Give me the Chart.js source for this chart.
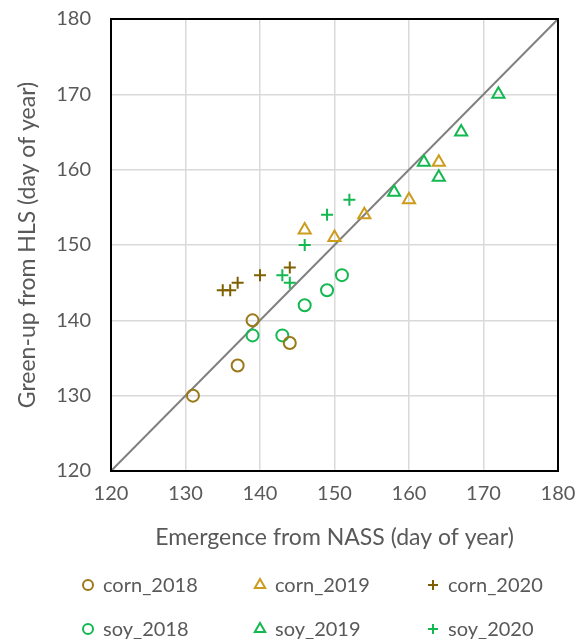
<!DOCTYPE html>
<html>
<head>
<meta charset="utf-8">
<script src="https://cdn.jsdelivr.net/npm/chart.js@4/dist/chart.umd.min.js"></script>
<style>
  html, body { margin: 0; padding: 0; background: #fff; }
  #wrap { width: 579px; height: 639px; position: relative; }
</style>
</head>
<body>
<div id="wrap"><canvas id="scatter"></canvas></div>
<script>
// Emergence (NASS) vs green-up (HLS), day of year
const corn2018X = [131, 137, 139, 144];
const corn2018Y = [130, 134, 140, 137];
const corn2019X = [146, 150, 154, 160, 164];
const corn2019Y = [152, 151, 154, 156, 161];
const corn2020X = [135, 136, 137, 140, 144];
const corn2020Y = [144, 144, 145, 146, 147];
const soy2018X = [139, 143, 146, 149, 151];
const soy2018Y = [138, 138, 142, 144, 146];
const soy2019X = [158, 162, 164, 167, 172];
const soy2019Y = [157, 161, 159, 165, 170];
const soy2020X = [143, 144, 146, 149, 152];
const soy2020Y = [146, 145, 150, 154, 156];
// 1:1 line
const oneToOne = [120, 180];
const axisTicks = [120, 130, 140, 150, 160, 170, 180];

const pts = (xs, ys) => xs.map((x, i) => ({ x: x, y: ys[i] }));

const textColor = '#595959';
const font = 'Lato, "Open Sans", sans-serif';

function series(label, xs, ys, color, style, radius) {
    return {
        label: label,
        data: pts(xs, ys),
        showLine: false,
        pointStyle: style,
        pointRadius: radius,
        pointHoverRadius: radius,
        pointBorderWidth: 2,
        borderColor: color,
        backgroundColor: 'rgba(0,0,0,0)',
        pointBackgroundColor: 'rgba(0,0,0,0)'
    };
}

const datasets = [
    series('corn_2018', corn2018X, corn2018Y, '#9a7818', 'circle', 6),
    series('corn_2019', corn2019X, corn2019Y, '#cc9c1c', 'triangle', 7),
    series('corn_2020', corn2020X, corn2020Y, '#7f6000', 'cross', 6),
    series('soy_2018', soy2018X, soy2018Y, '#14b850', 'circle', 6),
    series('soy_2019', soy2019X, soy2019Y, '#14b850', 'triangle', 7),
    series('soy_2020', soy2020X, soy2020Y, '#14b850', 'cross', 6),
    {
        label: '1:1',
        data: pts(oneToOne, oneToOne),
        showLine: true,
        pointRadius: 0,
        borderColor: '#808080',
        borderWidth: 2,
        order: 10
    }
];

// box around plot + legend in 2 rows x 3 cols
const extras = {
    id: 'extras',
    afterDraw(chart) {
        const ctx = chart.ctx;
        const a = chart.chartArea;
        ctx.save();
        ctx.strokeStyle = '#000';
        ctx.lineWidth = 2;
        ctx.strokeRect(a.left, a.top, a.right - a.left, a.bottom - a.top);

        const colX = [88, 260, 433];
        const rowY = [585, 629];
        ctx.font = '20px ' + font;
        ctx.textBaseline = 'middle';
        ctx.textAlign = 'left';
        chart.data.datasets.slice(0, 6).forEach((ds, i) => {
            const x = colX[i % 3], y = rowY[Math.floor(i / 3)];
            ctx.strokeStyle = ds.borderColor;
            ctx.fillStyle = 'rgba(0,0,0,0)';
            ctx.lineWidth = 2;
            Chart.helpers.drawPoint(ctx, {
                pointStyle: ds.pointStyle,
                radius: ds.pointStyle === 'triangle' ? 6 : 5,
                borderWidth: 2,
                rotation: 0
            }, x, y);
            ctx.fillStyle = textColor;
            ctx.fillText(ds.label, x + 15, y + 1);
        });
        ctx.restore();
    }
};

new Chart(document.getElementById('scatter'), {
    type: 'scatter',
    data: { datasets: datasets },
    plugins: [extras],
    options: {
        responsive: true,
        maintainAspectRatio: false,
        animation: false,
        layout: { padding: { left: 0, right: 21, top: 19, bottom: 80 } },
        plugins: {
            legend: { display: false },
            tooltip: { enabled: false }
        },
        scales: {
            x: {
                type: 'linear',
                min: 120,
                max: 180,
                afterBuildTicks: s => { s.ticks = axisTicks.map(v => ({ value: v })); },
                afterFit: s => { s.height = 88; s.paddingLeft = 0; s.paddingRight = 0; },
                grid: { color: '#d9d9d9', lineWidth: 1.5, drawTicks: false },
                border: { display: false },
                ticks: { color: textColor, font: { family: font, size: 20 }, padding: 11 },
                title: {
                    display: true,
                    text: 'Emergence from NASS (day of year)',
                    color: textColor,
                    font: { family: font, size: 23 },
                    padding: { top: 0, bottom: 8 }
                }
            },
            y: {
                type: 'linear',
                min: 120,
                max: 180,
                afterBuildTicks: s => { s.ticks = axisTicks.map(v => ({ value: v })); },
                afterFit: s => { s.width = 111; s.paddingTop = 0; s.paddingBottom = 0; },
                grid: { color: '#d9d9d9', lineWidth: 1.5, drawTicks: false },
                border: { display: false },
                ticks: { color: textColor, font: { family: font, size: 20 }, padding: 20 },
                title: {
                    display: true,
                    text: 'Green-up from HLS (day of year)',
                    color: textColor,
                    font: { family: font, size: 23 },
                    padding: { top: 14, bottom: 0 }
                }
            }
        }
    }
});
</script>
</body>
</html>
